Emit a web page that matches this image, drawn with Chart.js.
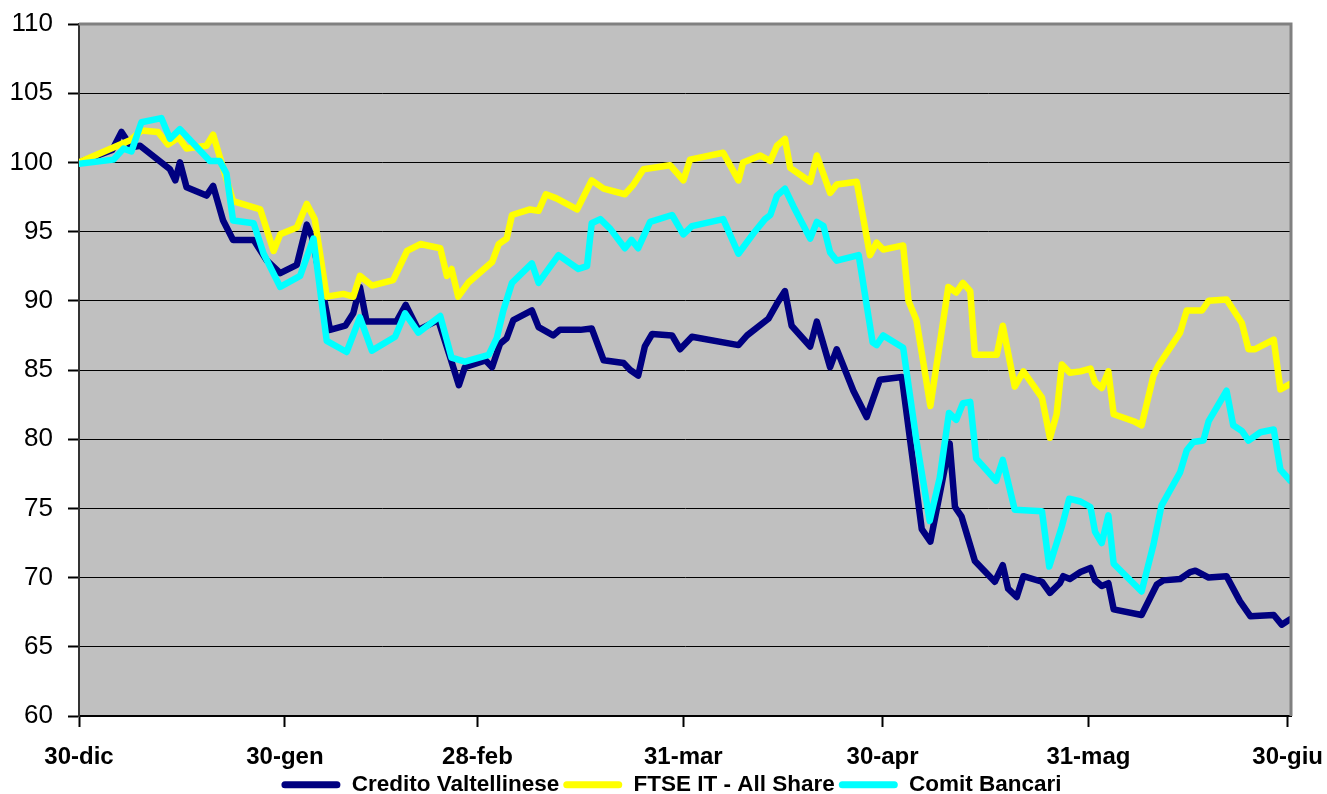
<!DOCTYPE html>
<html lang="it">
<head>
    <meta charset="UTF-8">
    <title>Credito Valtellinese</title>
    <script src="https://cdn.jsdelivr.net/npm/chart.js"></script>
    <style>
        html, body { margin: 0; padding: 0; background: #fff; overflow: hidden; }
        .wrap { width: 1327px; height: 794px; overflow: hidden; }
    </style>
</head>
<body>
    <div class="wrap">
        <canvas id="perfChart" width="1327" height="806"></canvas>
    </div>

    <script>
        // asse x: giorni dal 30-dic
        const tickDays = [0, 31, 60, 91, 121, 152, 182];
        const tickLabels = ['30-dic', '30-gen', '28-feb', '31-mar', '30-apr', '31-mag', '30-giu'];

        // Credito Valtellinese
        const credDays = [0, 5, 6.4, 7.9, 9.2, 13.7, 14.5, 15.2, 16.2, 19.2, 20.2, 21.7, 23.2, 26.3, 28.3, 30.3, 32.8, 34.3, 35.1, 37.8,
            40.1, 41.3, 42.3, 43.3, 47.8, 49.2, 51.1, 54.1, 55.9, 57.2, 58.1, 61.2, 62.2, 63.4, 64.4, 65.4, 68.2, 69.2, 71.4, 72.4,
            75.5, 77.2, 79.0, 82.0, 83.0, 84.2, 85.2, 86.3, 89.3, 90.5, 92.3, 99.3, 100.6, 103.8, 105.1, 106.3, 107.3, 110.1, 111.1, 113.1,
            114.1, 116.6, 118.6, 120.6, 123.9, 126.9, 128.2, 131.1, 131.9, 132.9, 134.9, 137.9, 139.1, 139.9, 141.2, 142.2, 145.0, 146.2, 147.7, 148.2,
            149.2, 150.8, 152.3, 153.0, 154.0, 155.0, 155.8, 160.0, 162.3, 163.3, 165.8, 167.3, 168.1, 170.1, 172.8, 174.8, 176.4, 179.9, 181.1, 182.4];
        const credVals = [100, 100.9, 102.2, 101.1, 101.2, 99.5, 98.7, 100.0, 98.2, 97.6, 98.3, 95.8, 94.4, 94.4, 92.9, 92.0, 92.6, 95.5, 94.6, 87.9,
            88.2, 89.1, 91.0, 88.5, 88.5, 89.7, 87.9, 88.6, 85.9, 83.9, 85.2, 85.7, 85.2, 86.9, 87.3, 88.6, 89.3, 88.1, 87.5, 87.9,
            87.9, 88.0, 85.7, 85.5, 85.0, 84.6, 86.7, 87.6, 87.5, 86.5, 87.4, 86.8, 87.5, 88.7, 89.8, 90.7, 88.2, 86.7, 88.5, 85.2,
            86.5, 83.5, 81.6, 84.3, 84.5, 73.5, 72.6, 79.7, 75.1, 74.4, 71.2, 69.7, 70.9, 69.2, 68.6, 70.1, 69.7, 68.9, 69.6, 70.1,
            69.9, 70.4, 70.7, 69.8, 69.4, 69.6, 67.7, 67.3, 69.5, 69.8, 69.9, 70.4, 70.5, 70.0, 70.1, 68.3, 67.2, 67.3, 66.6, 67.0];

        // FTSE IT - All Share
        const ftseDays = [0, 7.7, 9.4, 11.9, 13.4, 15.0, 16.2, 19.2, 20.2, 21.2, 23.2, 27.3, 29.3, 30.3, 32.8, 34.3, 35.5, 37.3, 39.8, 41.3,
            42.3, 44.1, 47.3, 49.4, 51.4, 54.4, 55.4, 56.1, 57.1, 58.6, 62.2, 63.2, 64.4, 65.2, 67.9, 69.2, 70.3, 71.9, 75.0, 77.2,
            79.0, 82.2, 83.5, 85.0, 89.0, 91.0, 92.0, 97.0, 99.3, 100.0, 102.6, 104.1, 105.1, 106.3, 107.1, 110.1, 111.1, 113.1, 114.1, 117.1,
            119.1, 120.1, 121.1, 124.1, 124.9, 126.1, 128.2, 130.9, 132.1, 133.1, 134.2, 134.9, 138.2, 139.1, 140.9, 142.2, 145.0, 146.2, 147.2, 148.0,
            149.2, 150.8, 152.3, 153.0, 154.0, 155.0, 155.8, 158.8, 160.0, 161.8, 162.5, 165.8, 166.8, 169.1, 170.1, 172.8, 175.1, 176.1, 177.1, 179.9,
            180.9, 182.4];
        const ftseVals = [100, 101.6, 102.3, 102.2, 101.3, 101.8, 101.0, 101.2, 102.0, 100.4, 97.2, 96.6, 93.6, 94.8, 95.3, 97.0, 95.9, 90.3, 90.5, 90.3,
            91.8, 91.1, 91.5, 93.6, 94.1, 93.8, 91.8, 92.3, 90.3, 91.3, 92.8, 94.1, 94.5, 96.2, 96.6, 96.5, 97.7, 97.4, 96.6, 98.7,
            98.1, 97.7, 98.4, 99.5, 99.8, 98.7, 100.2, 100.7, 98.7, 100.0, 100.5, 100.1, 101.2, 101.7, 99.6, 98.6, 100.5, 97.8, 98.4, 98.6,
            93.3, 94.2, 93.7, 94.0, 90.0, 88.6, 82.4, 91.0, 90.6, 91.3, 90.7, 86.1, 86.1, 88.2, 83.8, 84.9, 83.0, 80.1, 81.8, 85.4,
            84.8, 84.9, 85.1, 84.1, 83.7, 84.9, 81.8, 81.3, 81.0, 84.6, 85.3, 87.7, 89.3, 89.3, 90.0, 90.1, 88.4, 86.5, 86.5, 87.2,
            83.6, 84.0];

        // Comit Bancari
        const comitDays = [0, 5.2, 6.7, 7.9, 9.4, 12.4, 13.7, 15.2, 19.7, 21.2, 22.2, 23.2, 26.3, 27.8, 30.3, 33.3, 35.3, 37.3, 40.3, 42.3,
            44.1, 47.6, 49.1, 51.1, 54.4, 56.1, 58.1, 61.7, 62.9, 63.9, 65.2, 68.2, 69.2, 70.7, 72.2, 75.2, 76.5, 77.2, 78.5, 80.0,
            82.2, 83.2, 84.2, 86.0, 89.3, 91.0, 92.3, 97.0, 99.3, 101.6, 103.3, 104.1, 105.1, 106.3, 107.6, 110.1, 111.1, 112.1, 113.1, 114.1,
            117.4, 119.5, 120.1, 121.1, 124.1, 126.1, 128.1, 129.6, 131.0, 132.1, 133.1, 134.2, 135.1, 138.1, 139.1, 140.9, 145.0, 146.1, 148.0, 149.1,
            150.8, 152.3, 153.0, 154.0, 155.0, 155.8, 160.0, 161.8, 163.0, 165.8, 166.8, 167.8, 169.3, 170.1, 172.8, 173.8, 175.1, 176.1, 177.9, 179.9,
            180.9, 182.4];
        const comitVals = [99.9, 100.2, 101.0, 100.8, 102.9, 103.2, 101.7, 102.4, 100.1, 100.1, 99.2, 95.8, 95.6, 93.4, 91.0, 91.8, 94.5, 87.1, 86.3, 88.8,
            86.4, 87.4, 89.1, 87.7, 88.9, 85.9, 85.6, 86.1, 87.3, 89.3, 91.3, 92.7, 91.3, 92.3, 93.3, 92.3, 92.5, 95.6, 95.9, 95.2,
            93.8, 94.4, 93.8, 95.7, 96.2, 94.8, 95.4, 95.9, 93.4, 94.9, 95.9, 96.2, 97.6, 98.1, 96.8, 94.5, 95.7, 95.4, 93.5, 92.9,
            93.3, 87.0, 86.8, 87.5, 86.6, 79.9, 74.1, 77.2, 81.9, 81.4, 82.6, 82.7, 78.6, 77.0, 78.5, 74.9, 74.8, 70.8, 73.7, 75.7,
            75.5, 75.1, 73.3, 72.5, 74.5, 71.0, 69.0, 72.4, 75.2, 77.6, 79.2, 79.8, 79.9, 81.3, 83.5, 81.0, 80.6, 79.9, 80.5, 80.7,
            77.8, 77.0];

        function toPoints(days, vals) {
            return days.map((d, i) => ({ x: d, y: vals[i] }));
        }

        // sfondo grigio e bordo dell'area del grafico
        const plotArea = {
            id: 'plotArea',
            beforeDraw(chart) {
                const { ctx, chartArea: a } = chart;
                ctx.save();
                ctx.fillStyle = '#c0c0c0';
                ctx.fillRect(a.left, a.top, a.right - a.left, a.bottom - a.top);
                ctx.restore();
            },
            afterDatasetsDraw(chart) {
                const { ctx, chartArea: a } = chart;
                ctx.save();
                ctx.strokeStyle = '#808080';
                ctx.lineWidth = 3;
                ctx.beginPath();
                ctx.moveTo(a.left, a.top);
                ctx.lineTo(a.right, a.top);
                ctx.lineTo(a.right, a.bottom);
                ctx.stroke();
                ctx.restore();
            }
        };

        // la legenda dell'originale non è centrata: la sposto un po' a destra
        const legendShift = {
            id: 'legendShift',
            afterLayout(chart) {
                chart.legend.left += 26;
                chart.legend.right += 26;
            }
        };

        const lineStyle = {
            borderWidth: 6.5,
            borderJoinStyle: 'round',
            borderCapStyle: 'round',
            pointRadius: 0,
            tension: 0,
            fill: false
        };

        const ctx = document.getElementById('perfChart').getContext('2d');
        new Chart(ctx, {
            type: 'line',
            data: {
                datasets: [
                    Object.assign({
                        label: 'Credito Valtellinese',
                        data: toPoints(credDays, credVals),
                        borderColor: '#000080',
                        backgroundColor: '#000080',
                        order: 3
                    }, lineStyle),
                    Object.assign({
                        label: 'FTSE IT - All Share',
                        data: toPoints(ftseDays, ftseVals),
                        borderColor: '#ffff00',
                        backgroundColor: '#ffff00',
                        order: 2
                    }, lineStyle),
                    Object.assign({
                        label: 'Comit Bancari',
                        data: toPoints(comitDays, comitVals),
                        borderColor: '#00ffff',
                        backgroundColor: '#00ffff',
                        order: 1
                    }, lineStyle)
                ]
            },
            options: {
                responsive: false,
                animation: false,
                devicePixelRatio: 1,
                layout: {
                    padding: { top: 24, right: 36, left: 0, bottom: 0 }
                },
                plugins: {
                    tooltip: { enabled: false },
                    legend: {
                        position: 'bottom',
                        labels: {
                            color: '#000',
                            font: { family: "'Liberation Sans', Arial, sans-serif", size: 22.5, weight: 'bold' },
                            boxWidth: 59,
                            boxHeight: 7,
                            padding: 4,
                            useBorderRadius: true,
                            borderRadius: 3.5,
                            sort: (a, b) => a.datasetIndex - b.datasetIndex,
                            generateLabels: chart => Chart.defaults.plugins.legend.labels.generateLabels(chart)
                                .map(item => Object.assign(item, { lineWidth: 0 }))
                        }
                    }
                },
                scales: {
                    x: {
                        type: 'linear',
                        min: 0,
                        max: 182.5,
                        afterFit: s => {
                            s.height = 53.5;
                            s.paddingLeft = 0;
                            s.paddingRight = 0;
                        },
                        afterBuildTicks: s => { s.ticks = tickDays.map(v => ({ value: v })); },
                        grid: {
                            drawOnChartArea: false,
                            drawTicks: true,
                            tickLength: 11,
                            tickColor: '#000',
                            tickWidth: 2
                        },
                        border: { color: '#000', width: 2 },
                        ticks: {
                            autoSkip: false,
                            maxRotation: 0,
                            padding: 16,
                            color: '#000',
                            font: { family: "'Liberation Sans', Arial, sans-serif", size: 24, weight: 'bold' },
                            callback: v => tickLabels[tickDays.indexOf(v)]
                        }
                    },
                    y: {
                        min: 60,
                        max: 110,
                        afterFit: s => {
                            s.width = 79;
                            s.paddingTop = 0;
                            s.paddingBottom = 0;
                        },
                        grid: {
                            color: '#000',
                            lineWidth: 1,
                            tickLength: 11,
                            tickColor: '#000',
                            tickWidth: 2
                        },
                        border: { color: '#333', width: 2 },
                        ticks: {
                            stepSize: 5,
                            padding: 15,
                            color: '#000',
                            font: { family: "'Liberation Sans', Arial, sans-serif", size: 26 }
                        }
                    }
                }
            },
            plugins: [plotArea, legendShift]
        });
    </script>
</body>
</html>
